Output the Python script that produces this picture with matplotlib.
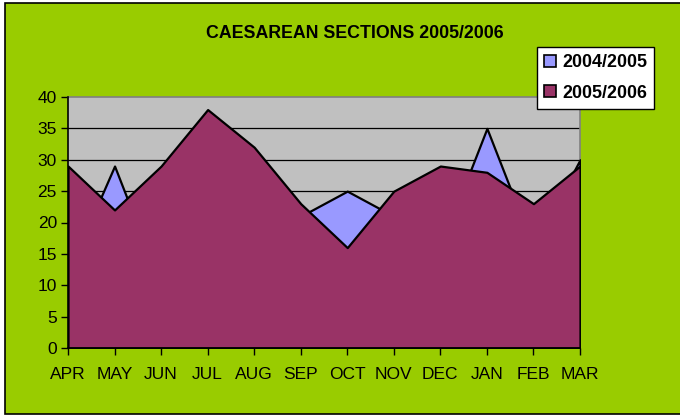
import matplotlib
matplotlib.use("Agg")
import matplotlib.pyplot as plt
from matplotlib.patches import Rectangle
from matplotlib.lines import Line2D

plt.rcParams['font.family'] = ['Liberation Sans', 'DejaVu Sans']

# data
months = ['APR', 'MAY', 'JUN', 'JUL', 'AUG', 'SEP', 'OCT', 'NOV', 'DEC', 'JAN', 'FEB', 'MAR']
sections_0405 = [12, 29, 10, 30, 28, 21, 25, 21, 16, 35, 16, 30]
sections_0506 = [29, 22, 29, 38, 32, 23, 16, 25, 29, 28, 23, 29]

green = '#99CC00'
blue = '#9999FF'
maroon = '#993366'
plot_gray = '#C0C0C0'

fig = plt.figure(figsize=(6.8, 4.16), dpi=100, facecolor='white')
# outer chart frame, kept behind the axes
frame = Rectangle((5 / 680, 2 / 416), 680 / 680, 411 / 416, transform=fig.transFigure,
                  facecolor=green, edgecolor='black', linewidth=1.2, zorder=-10)
fig.add_artist(frame)

ax = fig.add_axes([68 / 680, 68 / 416, 512 / 680, 251 / 416])
ax.set_facecolor(plot_gray)

x = range(len(months))
ax.fill_between(x, 0, sections_0405, facecolor=blue, edgecolor='black', linewidth=1.6, zorder=3)
ax.fill_between(x, 0, sections_0506, facecolor=maroon, edgecolor='black', linewidth=1.6, zorder=4)

ax.set_xlim(0, len(months) - 1)
ax.set_ylim(0, 40)
ax.set_yticks(range(0, 41, 5))
ax.set_xticks(list(x))
ax.set_xticklabels(months)
ax.tick_params(axis='both', labelsize=12.5, length=5, width=1, direction='out', color='black')
ax.tick_params(axis='x', pad=9)
ax.tick_params(axis='y', pad=3)

for y in range(5, 40, 5):
    ax.axhline(y, color='black', linewidth=0.9, zorder=1)

for side in ['top', 'right']:
    ax.spines[side].set_color('#808080')
    ax.spines[side].set_linewidth(1.2)
for side in ['left', 'bottom']:
    ax.spines[side].set_color('black')
    ax.spines[side].set_linewidth(1.2)
    ax.spines[side].set_zorder(5)

fig.text(355 / 680, 1 - 33 / 416, 'CAESAREAN SECTIONS 2005/2006', ha='center', va='center',
         fontsize=12.8, fontweight='bold')

handles = [
    Line2D([], [], linestyle='none', marker='s', markersize=8, markerfacecolor=blue,
           markeredgecolor='black', markeredgewidth=1.2),
    Line2D([], [], linestyle='none', marker='s', markersize=8, markerfacecolor=maroon,
           markeredgecolor='black', markeredgewidth=1.2),
]
leg = fig.legend(handles, ['2004/2005', '2005/2006'], loc='upper left',
                 bbox_to_anchor=(537 / 680, 1 - 47 / 416), frameon=True, fancybox=False,
                 framealpha=1, facecolor='white',
                 prop={'weight': 'bold', 'size': 12.9}, handlelength=0.7, handletextpad=0.3,
                 borderpad=0.4, labelspacing=0.75, borderaxespad=0)
leg.get_frame().set_edgecolor('black')
leg.get_frame().set_linewidth(1.0)

fig.savefig('out.png', dpi=100, facecolor=fig.get_facecolor())
